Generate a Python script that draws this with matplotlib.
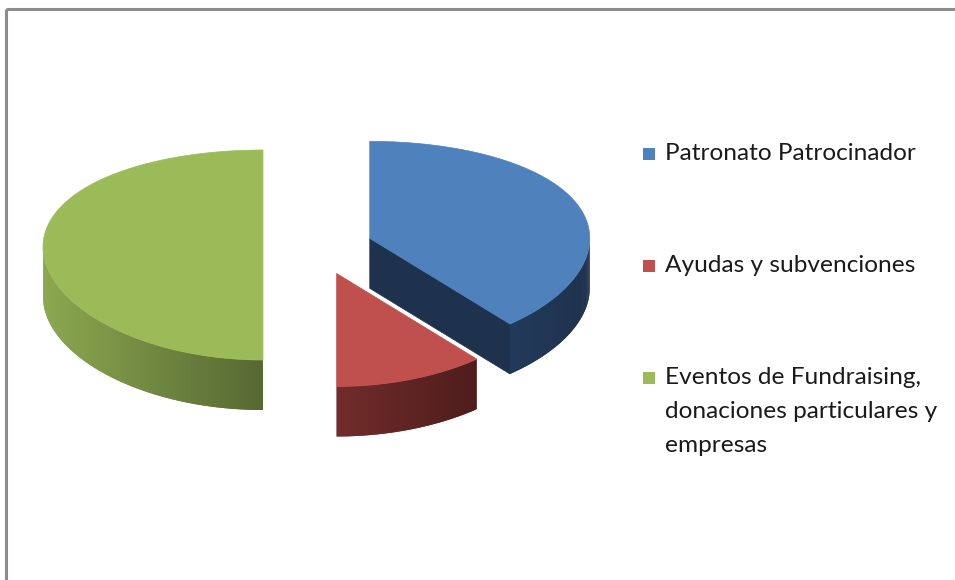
import numpy as np
import matplotlib.pyplot as plt
from matplotlib.patches import Polygon, Rectangle

# datos del grafico
labels = ['Patronato Patrocinador',
          'Ayudas y subvenciones',
          'Eventos de Fundraising,\ndonaciones particulares y\nempresas']
values = [39, 11, 50]
top_colors = ['#4F81BD', '#C0504D', '#9BBB59']
side_light = ['#223A5A', '#702C2A', '#8CA850']
side_dark = ['#1E324D', '#4E1D1C', '#566832']

# "3d" pie layout (pixel units)
CX, CY = 318, 247
RX, RY, PD = 220, 105, 8
DEPTH = 50
EXPLODE = 0.25


def proj(cx, cy, th, r=1.0, h=0.0):
    # th in degrees, clockwise from 12 o'clock
    t = np.radians(th)
    x = cx + RX * r * np.sin(t)
    y = cy + r * (-RY * np.cos(t) + PD * np.cos(t) ** 2) + h
    return x, y


def mix(c1, c2, f):
    a = np.array(plt.matplotlib.colors.to_rgb(c1))
    b = np.array(plt.matplotlib.colors.to_rgb(c2))
    return tuple(a + (b - a) * f)


fig = plt.figure(figsize=(9.55, 5.8), dpi=100)
ax = fig.add_axes([0, 0, 1, 1])
ax.set_xlim(0, 955)
ax.set_ylim(580, 0)
ax.axis('off')

bounds = np.concatenate([[0], np.cumsum(values)]) / sum(values) * 360
order = [2, 0, 1]  # back to front

for i in order:
    a0, a1 = bounds[i], bounds[i + 1]
    mid = (a0 + a1) / 2
    ox, oy = proj(0, 0, mid, EXPLODE)
    cx, cy = CX + ox, CY + oy

    # radial faces facing the viewer
    for a, vis in [(a1, np.sin(np.radians(a1)) > 0.01), (a0, -np.sin(np.radians(a0)) > 0.01)]:
        if vis:
            px, py = proj(cx, cy, a)
            pts = [(cx, cy), (px, py), (px, py + DEPTH), (cx, cy + DEPTH)]
            ax.add_patch(Polygon(pts, closed=True, fc=side_dark[i], ec=side_dark[i], lw=0.5))

    # outer wall, drawn as overlapping strips to fake a gradient
    lo, hi = max(a0, 90), min(a1, 270)
    if hi > lo:
        th = np.linspace(lo, hi, 81)
        xs, ys = proj(cx, cy, th)
        xmin, xmax = xs.min(), xs.max()
        for k in range(len(th) - 1):
            k2 = min(k + 2, len(th) - 1)
            f = ((xs[k] + xs[k + 1]) / 2 - xmin) / max(xmax - xmin, 1)
            col = mix(side_light[i], side_dark[i], f)
            seg = slice(k, k2 + 1)
            pts = list(zip(xs[seg], ys[seg])) + list(zip(xs[seg][::-1], ys[seg][::-1] + DEPTH))
            ax.add_patch(Polygon(pts, closed=True, fc=col, ec='none', lw=0))

    # top face
    th = np.linspace(a0, a1, 200)
    xs, ys = proj(cx, cy, th)
    pts = [(cx, cy)] + list(zip(xs, ys))
    ax.add_patch(Polygon(pts, closed=True, fc=top_colors[i], ec=top_colors[i], lw=0.5))

# leyenda
leg_y = [154, 266, 378]
for lab, col, y in zip(labels, top_colors, leg_y):
    ax.add_patch(Rectangle((643, y - 6), 12, 12, fc=col, ec='none'))
    for j, line in enumerate(lab.split('\n')):
        ax.text(665, y + j * 33.5, line, fontsize=17.6, family='Lato',
                color='#1a1a1a', va='center')

# marco del area del grafico
ax.plot([6, 6], [9, 580], color='#8c8c8c', lw=2.2, solid_capstyle='butt')
ax.plot([6, 955], [9, 9], color='#8c8c8c', lw=2.2, solid_capstyle='butt')

fig.savefig('out.png', dpi=100, facecolor='white')
